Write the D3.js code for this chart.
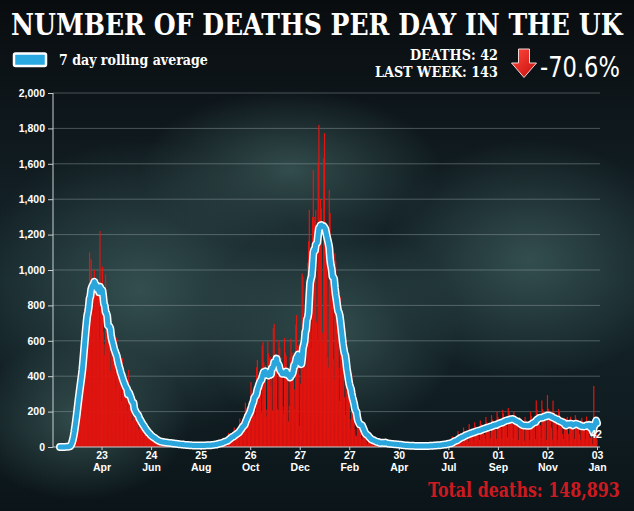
<!DOCTYPE html>
<html>
<head>
<meta charset="utf-8">
<script src="https://cdn.jsdelivr.net/npm/d3@7"></script>
<style>
  html, body { margin: 0; padding: 0; background: #0c1317; }
  svg { display: block; }
</style>
</head>
<body>
<div id="chart"></div>
<script>
// daily deaths reported, one row per week (Mon..Sun), starting Mon 2 Mar 2020
const startDate = '2020-03-02';

const deathsWave1 = [
  0, 0, 0, 1, 0, 1, 2,
  1, 3, 2, 4, 6, 8, 11,
  60, 80, 110, 150, 190, 220, 240,
  300, 350, 380, 400, 430, 460, 480,
  560, 700, 760, 780, 800, 790, 780,
  720, 900, 1100, 870, 1060, 900, 846,
  760, 1000, 900, 950, 900, 880, 890,
  600, 1220, 820, 780, 1019, 650, 581,
  520, 976, 760, 680, 640, 620, 564,
  430, 700, 600, 560, 520, 480, 490,
  330, 617, 450, 410, 400, 380, 346,
  260, 502, 350, 330, 310, 300, 293,
  200, 300, 435, 260, 230, 210, 185,
  150, 280, 200, 180, 170, 150, 165,
  100, 190, 140, 125, 110, 100, 110,
  65, 130, 90, 80, 70, 60, 65,
  42, 85, 60, 50, 45, 42, 40,
  28, 52, 38, 30, 28, 25, 23,
  20, 45, 30, 25, 22, 20, 20,
  16, 38, 26, 21, 19, 17, 17,
  13, 32, 22, 18, 15, 13, 13,
  10, 25, 17, 14, 12, 10, 10,
  8, 20, 13, 11, 9, 8, 8,
  6, 16, 11, 9, 7, 7, 7,
  5, 14, 10, 8, 7, 6, 6,
  5, 16, 11, 9, 8, 7, 7,
  6, 17, 12, 10, 9, 8, 8,
  8, 22, 16, 14, 14, 13, 11,
  12, 34, 26, 22, 22, 20, 18,
  18, 50, 40, 36, 34, 30, 30
];

const deathsWave2 = [
  30, 80, 66, 62, 60, 56, 52,
  35, 110, 90, 85, 80, 80, 80,
  55, 160, 135, 125, 130, 130, 105,
  90, 250, 220, 190, 225, 175, 180,
  150, 367, 320, 300, 290, 330, 238,
  180, 450, 492, 378, 400, 413, 312,
  194, 573, 595, 480, 376, 462, 172,
  213, 598, 529, 501, 511, 341, 420,
  206, 673, 696, 498, 521, 479, 217,
  205, 603, 560, 414, 504, 397, 231,
  189, 616, 533, 516, 424, 397, 144,
  232, 506, 612, 532, 489, 534, 326,
  215, 691, 745, 570, 574, 410, 120,
  357, 500, 980, 964, 700, 550, 499,
  450, 900, 1041, 1162, 1339, 1100, 658,
  560, 1300, 1565, 1280, 1300, 1340, 705,
  600, 1610, 1820, 1290, 1401, 1348, 646,
  592, 1631, 1773, 1239, 1245, 1200, 510,
  450, 1452, 1322, 1000, 1100, 900, 496,
  380, 1094, 1050, 800, 850, 700, 446,
  260, 849, 760, 520, 560, 480, 281,
  180, 603, 460, 340, 350, 290, 157,
  104, 415, 300, 230, 220, 100, 66,
  60, 190, 165, 160, 150, 100, 50,
  40, 110, 95, 80, 75, 60, 30,
  17, 75, 55, 45, 40, 30, 18
];

const deathsWave3 = [
  15, 50, 40, 30, 25, 20, 16,
  10, 20, 40, 32, 28, 20, 11,
  8, 35, 28, 22, 20, 12, 8,
  7, 30, 24, 18, 16, 10, 7,
  5, 25, 20, 15, 13, 8, 5,
  3, 15, 14, 11, 10, 6, 4,
  2, 12, 11, 9, 7, 5, 3,
  2, 10, 9, 8, 6, 4, 3,
  1, 11, 9, 7, 6, 5, 3,
  1, 10, 10, 7, 6, 5, 3,
  3, 13, 12, 9, 8, 6, 5,
  4, 16, 14, 12, 10, 9, 5,
  5, 23, 20, 17, 14, 12, 7,
  8, 35, 28, 24, 22, 18, 12,
  12, 60, 48, 40, 38, 34, 20,
  20, 90, 72, 60, 55, 55, 33,
  25, 110, 90, 80, 70, 70, 45,
  30, 130, 100, 90, 85, 80, 59,
  35, 140, 115, 100, 95, 95, 64,
  40, 150, 130, 110, 110, 110, 71,
  45, 170, 140, 120, 115, 125, 83,
  50, 180, 155, 140, 130, 125, 95,
  45, 200, 170, 155, 145, 135, 109,
  50, 210, 190, 170, 160, 150, 120,
  55, 220, 200, 180, 170, 150, 131,
  50, 200, 180, 160, 150, 140, 114,
  40, 170, 150, 140, 130, 120, 104,
  35, 170, 150, 135, 130, 125, 95,
  40, 200, 175, 160, 150, 140, 115,
  45, 263, 210, 180, 170, 165, 122,
  50, 263, 214, 200, 190, 160, 148,
  40, 293, 217, 193, 180, 157, 110,
  42, 262, 201, 190, 150, 145, 95,
  40, 214, 199, 170, 150, 120, 73,
  45, 165, 149, 147, 160, 170, 74,
  35, 159, 171, 150, 143, 126, 105,
  45, 180, 161, 150, 120, 130, 75,
  38, 150, 165, 146, 111, 125, 91,
  44, 172, 148, 140, 147, 55, 50,
  143, 18, 57, 345, 170, 160, 150,
  42
];

const tickDates = ['2020-04-23', '2020-06-24', '2020-08-25', '2020-10-26', '2020-12-27',
  '2021-02-27', '2021-04-30', '2021-07-01', '2021-09-01', '2021-11-02', '2022-01-03'];
const yTicks = [0, 200, 400, 600, 800, 1000, 1200, 1400, 1600, 1800, 2000];

const titleText = 'NUMBER OF DEATHS PER DAY IN THE UK';
const legendText = '7 day rolling average';
const deathsToday = 42;
const deathsLastWeek = 143;
const totalDeaths = 148893;

const W = 634, H = 511;
const plot = { left: 53, right: 600, top: 93, bottom: 447, x0: 60, x1: 597 };
const serif = '"DejaVu Serif", serif';
const sans = '"Liberation Sans", Arial, sans-serif';

const parseDay = d3.utcParse('%Y-%m-%d');
const start = parseDay(startDate);
const daily = deathsWave1.concat(deathsWave2, deathsWave3);
const rows = daily.map((v, i) => ({
  date: d3.utcDay.offset(start, i),
  value: v,
  avg: d3.mean(daily.slice(Math.max(0, i - 6), i + 1))
}));

const svg = d3.select('#chart').append('svg')
  .attr('width', W).attr('height', H)
  .attr('viewBox', `0 0 ${W} ${H}`);

// squeeze a text horizontally into a given width (condensed display faces)
function fitText(sel, x, y, width) {
  const w = sel.node().getComputedTextLength() || width;
  sel.attr('x', 0).attr('y', 0)
    .attr('transform', `translate(${x},${y}) scale(${width / w},1)`);
  return sel;
}

// background
const defs = svg.append('defs');
const bg = defs.append('linearGradient').attr('id', 'bg').attr('x1', 0).attr('y1', 0).attr('x2', 0).attr('y2', 1);
bg.append('stop').attr('offset', '0%').attr('stop-color', '#090c0f');
bg.append('stop').attr('offset', '18%').attr('stop-color', '#0d1519');
bg.append('stop').attr('offset', '55%').attr('stop-color', '#15262b');
bg.append('stop').attr('offset', '100%').attr('stop-color', '#0b1519');
const glow = defs.append('radialGradient').attr('id', 'glow');
glow.append('stop').attr('offset', '0%').attr('stop-color', '#3b5857').attr('stop-opacity', 0.8);
glow.append('stop').attr('offset', '100%').attr('stop-color', '#3b5857').attr('stop-opacity', 0);
const arrowFill = defs.append('linearGradient').attr('id', 'arrowFill').attr('x1', 0).attr('y1', 0).attr('x2', 1).attr('y2', 1);
arrowFill.append('stop').attr('offset', '0%').attr('stop-color', '#ff4a3d');
arrowFill.append('stop').attr('offset', '100%').attr('stop-color', '#c70d0d');

svg.append('rect').attr('width', W).attr('height', H).attr('fill', 'url(#bg)');
const blobs = [[140, 290, 170, 150], [290, 170, 150, 80], [330, 330, 130, 110], [80, 420, 110, 80], [530, 260, 150, 120]];
svg.append('g').selectAll('ellipse').data(blobs).join('ellipse')
  .attr('cx', d => d[0]).attr('cy', d => d[1]).attr('rx', d => d[2]).attr('ry', d => d[3])
  .attr('fill', 'url(#glow)');

const x = d3.scaleUtc()
  .domain([rows[0].date, rows[rows.length - 1].date])
  .range([plot.x0, plot.x1]);
const y = d3.scaleLinear().domain([0, 2000]).range([plot.bottom, plot.top]);

// grid
svg.append('g').selectAll('line').data(yTicks.filter(d => d > 0)).join('line')
  .attr('x1', plot.left).attr('x2', plot.right)
  .attr('y1', d => y(d)).attr('y2', d => y(d))
  .attr('stroke', '#a3b0b4').attr('stroke-opacity', 0.5).attr('stroke-width', 0.8);

// daily bars (slightly overlapping so the thin columns read as one red mass)
const bw = (plot.x1 - plot.x0) / (rows.length - 1);
svg.append('g').selectAll('rect').data(rows).join('rect')
  .attr('x', d => x(d.date) - bw * 0.75)
  .attr('width', bw * 1.5)
  .attr('y', d => y(d.value))
  .attr('height', d => y(0) - y(d.value))
  .attr('fill', '#e5140f');

// axes
const yAxis = svg.append('g')
  .attr('transform', `translate(${plot.left},0)`)
  .call(d3.axisLeft(y).tickValues(yTicks).tickSize(5).tickFormat(d3.format(',')));
yAxis.select('.domain').remove();
yAxis.selectAll('line').attr('stroke', '#c9d0d2');
yAxis.selectAll('text')
  .attr('fill', '#fff').attr('font-family', sans).attr('font-weight', 'bold')
  .attr('font-size', 10.5).attr('x', -8);

svg.append('line').attr('x1', plot.left).attr('x2', plot.left)
  .attr('y1', plot.top).attr('y2', plot.bottom).attr('stroke', '#c9d0d2');
svg.append('line').attr('x1', plot.left).attr('x2', plot.right)
  .attr('y1', plot.bottom).attr('y2', plot.bottom).attr('stroke', '#c9d0d2');

const xAxis = svg.append('g')
  .attr('transform', `translate(0,${plot.bottom})`)
  .call(d3.axisBottom(x).tickValues(tickDates.map(parseDay)).tickSize(3).tickFormat(() => ''));
xAxis.select('.domain').remove();
xAxis.selectAll('line').attr('stroke', '#c9d0d2');
const fmtDay = d3.utcFormat('%d'), fmtMon = d3.utcFormat('%b');
xAxis.selectAll('.tick').each(function (d) {
  const t = d3.select(this).append('text')
    .attr('fill', '#fff').attr('font-family', sans).attr('font-weight', 'bold')
    .attr('font-size', 10.5).attr('text-anchor', 'middle');
  t.append('tspan').attr('x', 0).attr('y', 12).text(fmtDay(d));
  t.append('tspan').attr('x', 0).attr('y', 24).text(fmtMon(d));
});

// rolling average line
const line = d3.line().x(d => x(d.date)).y(d => y(d.avg));
svg.append('path').datum(rows).attr('d', line)
  .attr('fill', 'none').attr('stroke', '#ffffff').attr('stroke-width', 8)
  .attr('stroke-linejoin', 'round').attr('stroke-linecap', 'round');
svg.append('path').datum(rows).attr('d', line)
  .attr('fill', 'none').attr('stroke', '#2aa6dc').attr('stroke-width', 5)
  .attr('stroke-linejoin', 'round').attr('stroke-linecap', 'round');

const last = rows[rows.length - 1];
svg.append('text')
  .attr('x', x(last.date) - 1).attr('y', y(last.avg) + 15)
  .attr('text-anchor', 'middle')
  .attr('fill', '#fff').attr('font-family', sans).attr('font-weight', 'bold').attr('font-size', 10.5)
  .text(last.value);

// title and legend
fitText(svg.append('text')
  .attr('fill', '#fff').attr('font-family', serif).attr('font-weight', 'bold').attr('font-size', 30)
  .text(titleText), 11, 35, 612);

svg.append('rect')
  .attr('x', 14).attr('y', 53.5).attr('width', 32).attr('height', 12.5).attr('rx', 1.5)
  .attr('fill', '#2aa8e0').attr('stroke', '#fff').attr('stroke-width', 2.5);
fitText(svg.append('text')
  .attr('fill', '#fff').attr('font-family', serif).attr('font-weight', 'bold').attr('font-size', 14.5)
  .text(legendText), 59, 64.5, 149);

// latest figures
fitText(svg.append('text')
  .attr('fill', '#fff').attr('font-family', serif).attr('font-weight', 'bold').attr('font-size', 14.5)
  .text(`DEATHS: ${deathsToday}`), 410, 60, 88);
fitText(svg.append('text')
  .attr('fill', '#fff').attr('font-family', serif).attr('font-weight', 'bold').attr('font-size', 14.5)
  .text(`LAST WEEK: ${deathsLastWeek}`), 375, 77, 123);

svg.append('path')
  .attr('d', 'M518.5,49 L529.5,49 L529.5,63 L536.5,63 L524,77.5 L511.5,63 L518.5,63 Z')
  .attr('fill', 'url(#arrowFill)').attr('stroke', '#f2d6d6').attr('stroke-width', 1)
  .attr('stroke-linejoin', 'round');

const change = (deathsToday - deathsLastWeek) / deathsLastWeek * 100;
fitText(svg.append('text')
  .attr('fill', '#fff').attr('font-family', '"DejaVu Sans", sans-serif').attr('font-size', 29)
  .text(`${change.toFixed(1)}%`), 540, 77, 80);

fitText(svg.append('text')
  .attr('fill', '#cc1a20').attr('font-family', serif).attr('font-weight', 'bold').attr('font-size', 21)
  .text(`Total deaths: ${d3.format(',')(totalDeaths)}`), 428, 497, 192);
</script>
</body>
</html>
